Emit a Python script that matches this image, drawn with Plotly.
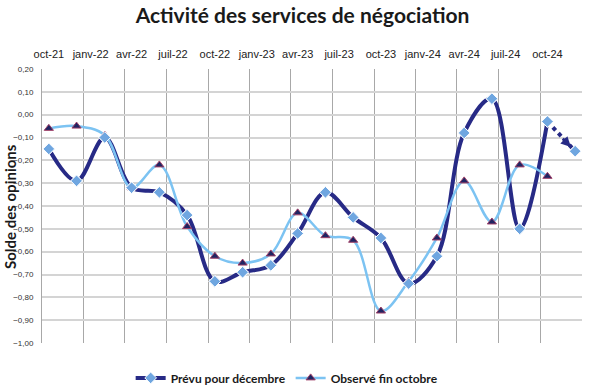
import plotly.graph_objects as go

# ---- data ----
months = ["2021-10", "2021-12", "2022-02", "2022-04", "2022-06", "2022-08", "2022-10",
          "2022-12", "2023-02", "2023-04", "2023-06", "2023-08", "2023-10", "2023-12",
          "2024-02", "2024-04", "2024-06", "2024-08", "2024-10", "2024-12"]
prevu = [-0.15, -0.29, -0.10, -0.32, -0.34, -0.44, -0.73, -0.69, -0.66, -0.52,
         -0.34, -0.45, -0.54, -0.74, -0.62, -0.08, 0.07, -0.50, -0.03, -0.16]
observe = [-0.06, -0.05, -0.09, -0.32, -0.22, -0.49, -0.62, -0.65, -0.61, -0.43,
           -0.53, -0.55, -0.86, -0.73, -0.54, -0.29, -0.47, -0.22, -0.27]
tick_dates = ["2021-10", "2022-01", "2022-04", "2022-07", "2022-10", "2023-01", "2023-04",
              "2023-07", "2023-10", "2024-01", "2024-04", "2024-07", "2024-10"]
tick_labels = ["oct-21", "janv-22", "avr-22", "juil-22", "oct-22", "janv-23", "avr-23",
               "juil-23", "oct-23", "janv-24", "avr-24", "juil-24", "oct-24"]
grid_dates = ["2021-09-16", "2021-12-16", "2022-03-16", "2022-06-16", "2022-09-16",
              "2022-12-16", "2023-03-16", "2023-06-16", "2023-09-16", "2023-12-16",
              "2024-03-16", "2024-06-16", "2024-09-16", "2024-12-16"]

NAVY = "#272A86"
LIGHT = "#7CC3F2"
DIAM = "#6FA6E0"

fig = go.Figure()

# Prévu (solid part)
fig.add_trace(go.Scatter(
    x=months[:-1], y=prevu[:-1], name="Prévu pour décembre",
    mode="lines+markers",
    line=dict(color=NAVY, width=4, shape="spline", smoothing=1.0),
    marker=dict(symbol="diamond", size=9, color=DIAM, line=dict(color="white", width=1)),
))
# Prévu (dotted forecast segment)
fig.add_trace(go.Scatter(
    x=months[-2:], y=prevu[-2:], mode="lines", showlegend=False,
    line=dict(color=NAVY, width=4, dash="dot"),
))
# Observé
fig.add_trace(go.Scatter(
    x=months[:len(observe)], y=observe, name="Observé fin octobre",
    mode="lines+markers",
    line=dict(color=LIGHT, width=2.5, shape="spline", smoothing=1.0),
    marker=dict(symbol="triangle-up", size=8, color="#1F2462", line=dict(color="#A04068", width=1)),
))
# redraw Prévu markers on top
fig.add_trace(go.Scatter(
    x=months, y=prevu, mode="markers", showlegend=False,
    marker=dict(symbol="diamond", size=9, color=DIAM, line=dict(color="white", width=1)),
))

fig.add_annotation(
    x=months[-1], y=prevu[-1], xref="x", yref="y",
    ax=-14, ay=-14, showarrow=True, arrowhead=2, arrowsize=0.8, arrowwidth=2.5,
    arrowcolor=NAVY, standoff=6, text="",
)

# y-axis title as rotated annotation
fig.add_annotation(
    text="<b>Solde des opinions</b>", xref="paper", yref="paper",
    x=-0.0593, y=0.5, xanchor="center", yanchor="middle", textangle=-90,
    showarrow=False, font=dict(family="Lato", size=15, color="#1a1a1a"),
)

fig.update_layout(
    width=605, height=392,
    margin=dict(l=42, r=23, t=69, b=49),
    paper_bgcolor="white", plot_bgcolor="white",
    separators=", ",
    title=dict(text="<b>Activité des services de négociation</b>",
               font=dict(family="Lato", size=21, color="#1a1a1a"),
               x=0.5, xanchor="center", yref="container", y=0.98, yanchor="top"),
    showlegend=True,
    legend=dict(orientation="h", x=0.454, xanchor="center",
                yref="container", y=0.036, yanchor="middle",
                font=dict(family="Lato", size=12, color="#1a1a1a", weight="bold"),
                itemwidth=30, tracegroupgap=0),
)

fig.update_xaxes(
    type="date", side="top", range=["2021-09-16", "2024-12-16"], automargin=False,
    tickmode="array", tickvals=tick_dates, ticktext=tick_labels,
    tickfont=dict(family="Liberation Sans", size=11, color="#222"),
    showgrid=False, ticks="", zeroline=False, showline=False, ticklabelstandoff=8,
    minor=dict(tickmode="array", tickvals=grid_dates, showgrid=True,
               gridcolor="#A8A8A8", gridwidth=1, ticks=""),
)
fig.update_yaxes(
    range=[-1.0, 0.2], dtick=0.1, tick0=0, tickformat=".2f", automargin=False,
    tickfont=dict(family="Liberation Sans", size=8, color="#333"),
    showgrid=True, gridcolor="#D4D4D4", gridwidth=1.5,
    zeroline=False, showline=True, linecolor="#A8A8A8", linewidth=1,
    ticks="", ticklabelstandoff=6,
)

fig.write_html("out.html", config={"displayModeBar": False},
               post_script="document.body.style.margin='0';document.body.style.padding='0';")
